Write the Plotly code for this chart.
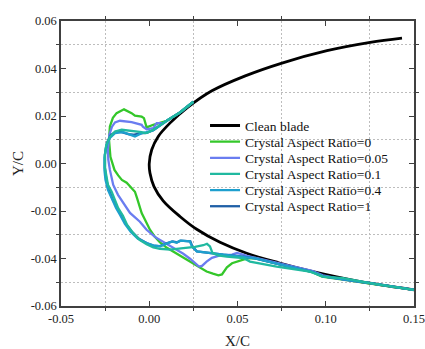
import plotly.graph_objects as go

# ---------------- data (X/C, Y/C) ----------------
clean_x = [0.1432, 0.1252, 0.1007, 0.0752, 0.0544, 0.0355, 0.0212, 0.0117, 0.0051, 0.0014, 0.0000,
           0.0004, 0.0027, 0.0079, 0.0174, 0.0269, 0.0401, 0.0552, 0.0733, 0.0922, 0.1062, 0.1250, 0.1500]
clean_y = [0.0528, 0.0510, 0.0475, 0.0423, 0.0369, 0.0306, 0.0233, 0.0170, 0.0114, 0.0058, 0.0000,
           -0.0040, -0.0097, -0.0157, -0.0223, -0.0277, -0.0332, -0.0378, -0.0418, -0.0454, -0.0477, -0.0504, -0.0532]

ar0_x = [0.0250, 0.0174, 0.0099, 0.0070, 0.0023, -0.0015, -0.0030, -0.0043, -0.0081, -0.0100, -0.0143,
         -0.0185, -0.0206, -0.0223, -0.0228, -0.0220, -0.0197, -0.0176, -0.0155, -0.0128, -0.0098, -0.0081,
         -0.0070, -0.0058, -0.0043, -0.0024, 0.0004, 0.0032, 0.0061, 0.0100, 0.0155, 0.0249, 0.0325, 0.0361,
         0.0392, 0.0412, 0.0423, 0.0440, 0.0469, 0.0495, 0.0533, 0.0563, 0.0601, 0.0733, 0.0922, 0.0979,
         0.1111, 0.1252, 0.1500]
ar0_y = [0.0260, 0.0215, 0.0180, 0.0174, 0.0163, 0.0152, 0.0191, 0.0197, 0.0201, 0.0212, 0.0228,
         0.0212, 0.0192, 0.0156, 0.0100, 0.0028, -0.0027, -0.0050, -0.0069, -0.0081, -0.0107, -0.0119,
         -0.0144, -0.0174, -0.0209, -0.0237, -0.0279, -0.0309, -0.0332, -0.0355, -0.0380, -0.0422, -0.0455, -0.0464,
         -0.0471, -0.0467, -0.0456, -0.0437, -0.0420, -0.0413, -0.0405, -0.0399, -0.0398, -0.0424, -0.0457, -0.0476,
         -0.0490, -0.0504, -0.0532]

ar005_x = [0.0250, 0.0174, 0.0099, 0.0079, 0.0042, 0.0023, -0.0015, -0.0036, -0.0043, -0.0100, -0.0166,
           -0.0194, -0.0211, -0.0226, -0.0234, -0.0232, -0.0223, -0.0204, -0.0177, -0.0147, -0.0109, -0.0053,
           -0.0015, 0.0032, 0.0079, 0.0129, 0.0193, 0.0231, 0.0269, 0.0282, 0.0299, 0.0325, 0.0355, 0.0401,
           0.0469, 0.0497, 0.0525, 0.0552, 0.0609, 0.0733, 0.0922, 0.0984, 0.1111, 0.1252, 0.1500]
ar005_y = [0.0260, 0.0215, 0.0180, 0.0170, 0.0170, 0.0149, 0.0144, 0.0155, 0.0163, 0.0174, 0.0180,
           0.0173, 0.0155, 0.0121, 0.0058, 0.0016, -0.0027, -0.0090, -0.0132, -0.0165, -0.0208, -0.0245,
           -0.0279, -0.0309, -0.0330, -0.0355, -0.0380, -0.0401, -0.0427, -0.0434, -0.0431, -0.0413, -0.0397, -0.0387,
           -0.0384, -0.0377, -0.0382, -0.0389, -0.0398, -0.0419, -0.0452, -0.0471, -0.0490, -0.0504, -0.0532]

ar01_x = [0.0250, 0.0174, 0.0099, 0.0023, -0.0013, -0.0024, -0.0043, -0.0100, -0.0156, -0.0194, -0.0223,
          -0.0243, -0.0251, -0.0251, -0.0245, -0.0234, -0.0213, -0.0194, -0.0176, -0.0149, -0.0126, -0.0092,
          -0.0053, -0.0015, 0.0023, 0.0061, 0.0117, 0.0193, 0.0259, 0.0306, 0.0327, 0.0344, 0.0358, 0.0389,
          0.0439, 0.0533, 0.0571, 0.0722, 0.0911, 0.0986, 0.1099, 0.1251, 0.1500]
ar01_y = [0.0260, 0.0215, 0.0180, 0.0142, 0.0129, 0.0128, 0.0132, 0.0138, 0.0142, 0.0135, 0.0112,
          0.0079, 0.0037, -0.0018, -0.0052, -0.0090, -0.0119, -0.0157, -0.0188, -0.0220, -0.0258, -0.0292,
          -0.0323, -0.0340, -0.0353, -0.0359, -0.0363, -0.0356, -0.0351, -0.0344, -0.0338, -0.0349, -0.0376, -0.0387,
          -0.0392, -0.0398, -0.0413, -0.0434, -0.0455, -0.0476, -0.0483, -0.0504, -0.0532]

ar04_x = [0.0250, 0.0174, 0.0099, 0.0023, -0.0015, -0.0043, -0.0081, -0.0100, -0.0147, -0.0194, -0.0223,
          -0.0245, -0.0254, -0.0254, -0.0248, -0.0234, -0.0211, -0.0188, -0.0166, -0.0138, -0.0104, -0.0064,
          -0.0015, 0.0023, 0.0061, 0.0100, 0.0129, 0.0155, 0.0174, 0.0230, 0.0242, 0.0269, 0.0344, 0.0419,
          0.0533, 0.0599, 0.0733, 0.0922, 0.0984, 0.1111, 0.1252, 0.1500]
ar04_y = [0.0260, 0.0215, 0.0180, 0.0140, 0.0132, 0.0128, 0.0114, 0.0119, 0.0132, 0.0128, 0.0108,
          0.0070, 0.0024, -0.0027, -0.0069, -0.0111, -0.0153, -0.0187, -0.0216, -0.0254, -0.0288, -0.0317,
          -0.0335, -0.0345, -0.0349, -0.0336, -0.0328, -0.0334, -0.0325, -0.0328, -0.0349, -0.0370, -0.0377, -0.0384,
          -0.0392, -0.0399, -0.0424, -0.0456, -0.0475, -0.0490, -0.0504, -0.0532]

ar1_x = [0.0250, 0.0174, 0.0099, 0.0023, -0.0015, -0.0053, -0.0091, -0.0119, -0.0156, -0.0185, -0.0217,
         -0.0240, -0.0251, -0.0251, -0.0243, -0.0228, -0.0206, -0.0183, -0.0160, -0.0132, -0.0098, -0.0058,
         -0.0013, 0.0023, 0.0061, 0.0106, 0.0134, 0.0157, 0.0179, 0.0233, 0.0245, 0.0270, 0.0344, 0.0419,
         0.0533, 0.0599, 0.0733, 0.0922, 0.0984, 0.1111, 0.1252, 0.1500]
ar1_y = [0.0260, 0.0215, 0.0180, 0.0140, 0.0129, 0.0127, 0.0121, 0.0124, 0.0132, 0.0135, 0.0121,
         0.0087, 0.0037, -0.0018, -0.0069, -0.0111, -0.0153, -0.0187, -0.0216, -0.0254, -0.0288, -0.0317,
         -0.0336, -0.0346, -0.0348, -0.0334, -0.0328, -0.0332, -0.0325, -0.0328, -0.0351, -0.0370, -0.0378, -0.0384,
         -0.0392, -0.0399, -0.0424, -0.0456, -0.0475, -0.0490, -0.0504, -0.0532]

series_names = ["Clean blade", "Crystal Aspect Ratio=0", "Crystal Aspect Ratio=0.05",
                "Crystal Aspect Ratio=0.1", "Crystal Aspect Ratio=0.4", "Crystal Aspect Ratio=1"]

x_tickvals = [-0.05, 0.00, 0.05, 0.10, 0.15]
x_ticktext = ["-0.05", "0.00", "0.05", "0.10", "0.15"]
y_tickvals = [-0.06, -0.04, -0.02, 0.00, 0.02, 0.04, 0.06]
y_ticktext = ["-0.06", "-0.04", "-0.02", "0.00", "0.02", "0.04", "0.06"]
x_minor = [-0.025, 0.025, 0.075, 0.125]
y_minor = [-0.05, -0.03, -0.01, 0.01, 0.03, 0.05]

# ---------------- styling ----------------
FONT = "Liberation Serif"
colors = ["#000000", "#34c72a", "#6a7df0", "#20b9a0", "#1e9fce", "#1f5fa6"]
widths = [2.8, 2.3, 2.3, 2.3, 2.3, 2.3]
xs = [clean_x, ar0_x, ar005_x, ar01_x, ar04_x, ar1_x]
ys = [clean_y, ar0_y, ar005_y, ar01_y, ar04_y, ar1_y]
legend_ids = ["legend", "legend2", "legend3", "legend4", "legend5", "legend6"]
draw_order = [0, 1, 2, 5, 4, 3]

fig = go.Figure()
for i in draw_order:
    fig.add_trace(go.Scatter(
        x=xs[i], y=ys[i], mode="lines", name=series_names[i],
        line=dict(color=colors[i], width=widths[i], shape="spline" if i == 0 else "linear",
                  smoothing=1.0 if i == 0 else None),
        legend=legend_ids[i], showlegend=True,
    ))

W, H = 425, 349
ml, mr, mt, mb = 61, 11, 21, 43
plot_h = H - mt - mb
legend_px_y = [125.7 + 16.15 * k for k in range(6)]

layout_legends = {}
for k, lid in enumerate(legend_ids):
    layout_legends[lid] = dict(
        x=0.408, xanchor="left",
        y=(H - mb - legend_px_y[k]) / plot_h, yanchor="middle",
        bgcolor="rgba(0,0,0,0)", borderwidth=0,
        font=dict(family=FONT, size=13.5, color="#111"),
    )

axis_common = dict(
    showline=True, linecolor="#404040", linewidth=1.5, mirror="ticks",
    ticks="inside", ticklen=5, tickwidth=1.2, tickcolor="#404040",
    showgrid=False, zeroline=False, automargin=False,
    tickfont=dict(family=FONT, size=12.5, color="#222"),
)

fig.update_layout(
    template="none",
    width=W, height=H,
    margin=dict(l=ml, r=mr, t=mt, b=mb, autoexpand=False),
    paper_bgcolor="white", plot_bgcolor="white",
    font=dict(family=FONT, color="#222"),
    xaxis=dict(range=[-0.05, 0.15], tickmode="array", tickvals=x_tickvals, ticktext=x_ticktext,
               title=dict(text="X/C", font=dict(family=FONT, size=15, color="#222"), standoff=15),
               minor=dict(tickmode="array", tickvals=x_minor, ticks="outside", ticklen=3,
                          tickcolor="#404040", showgrid=True, gridcolor="#bdbdbd", griddash="2px,2px", gridwidth=1),
               **axis_common),
    yaxis=dict(range=[-0.06, 0.06], tickmode="array", tickvals=y_tickvals, ticktext=y_ticktext,
               title=dict(text="Y/C", font=dict(family=FONT, size=15, color="#222"), standoff=3),
               minor=dict(tickmode="array", tickvals=y_minor, ticks="outside", ticklen=3,
                          tickcolor="#404040", showgrid=True, gridcolor="#bdbdbd", griddash="2px,2px", gridwidth=1),
               **axis_common),
    **layout_legends,
)

fig.write_html("out.html")
